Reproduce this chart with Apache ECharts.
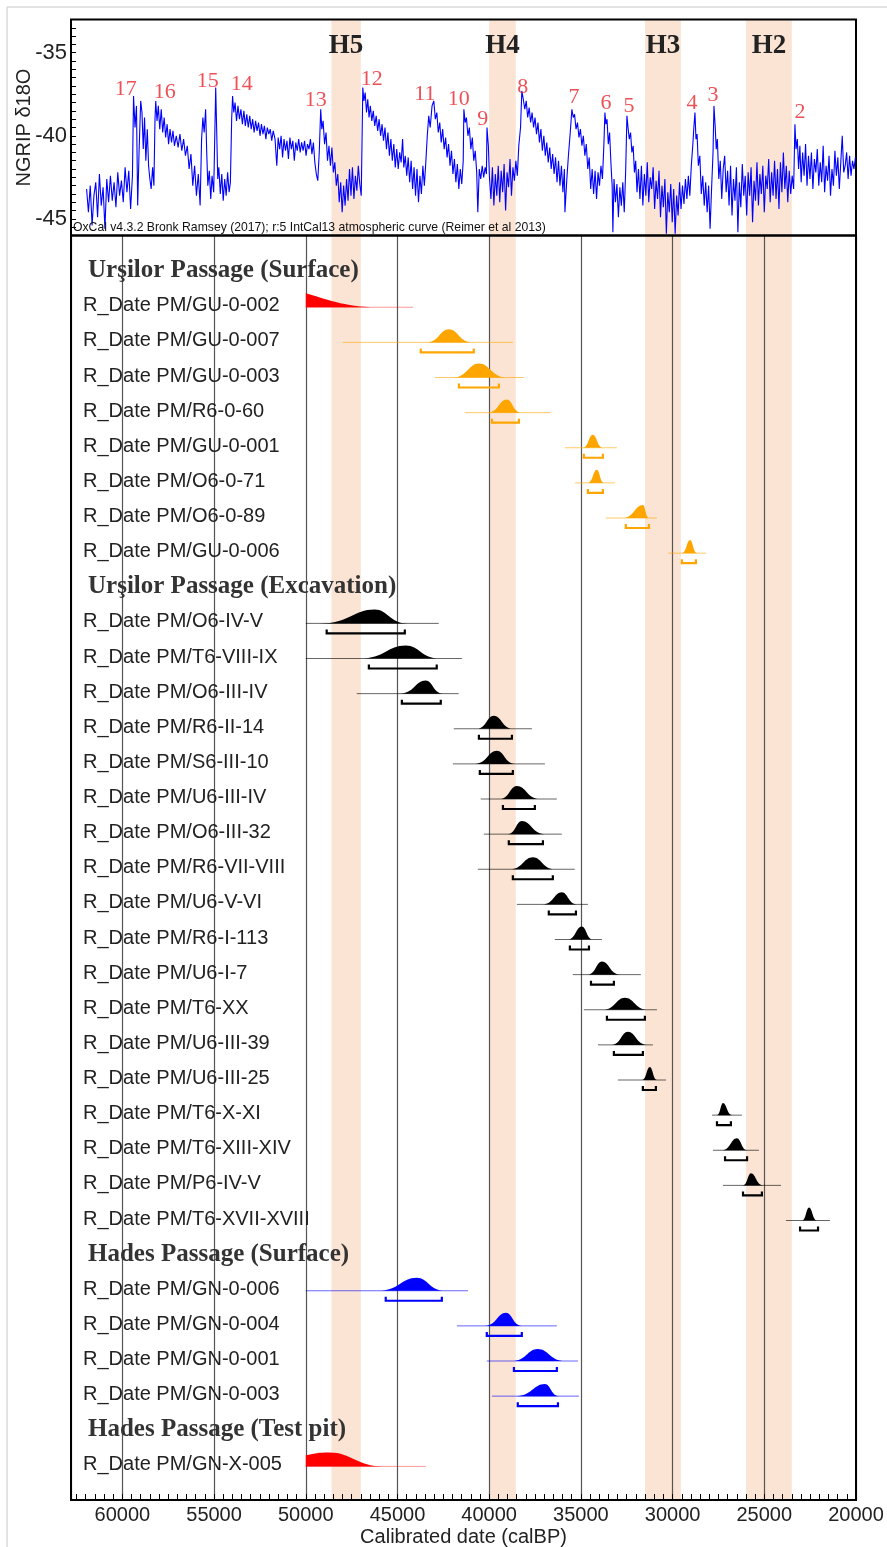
<!DOCTYPE html>
<html>
<head>
<meta charset="utf-8">
<script src="https://cdn.jsdelivr.net/npm/echarts@6/dist/echarts.min.js"></script>
<style>
html,body{margin:0;padding:0;background:#fff;}
#chart{width:887px;height:1547px;}
</style>
</head>
<body>
<div id="chart"></div>
<script>
// NGRIP d18O record: [age calBP, permil]
var ngrip = [
[61950,-43.2],[61850,-44.6],[61750,-43.0],[61650,-45.4],[61550,-43.6],[61450,-42.8],[61350,-44.9],[61250,-42.3],[61150,-44.2],[61050,-43.1],[60950,-45.6],[60850,-42.6],[60750,-44.0],[60650,-42.4],[60550,-43.9],[60450,-42.8],[60350,-44.3],[60250,-42.2],[60150,-43.6],[60050,-42.7],[59950,-44.0],[59850,-41.9],[59750,-43.4],[59650,-42.1],[59550,-44.4],[59450,-42.4],
[59390,-37.6],[59310,-39.5],[59230,-38.2],[59165,-44.2],[59090,-41.0],[59000,-37.9],[58930,-38.6],[58860,-40.8],[58790,-38.9],[58720,-41.5],[58640,-39.6],[58570,-41.8],[58500,-42.6],[58430,-43.2],[58350,-41.9],[58280,-43.0],[58220,-39.0],[58180,-37.9],
[58110,-39.1],[58040,-38.2],[57960,-39.6],[57880,-38.4],[57800,-39.8],[57720,-38.9],[57640,-40.1],[57560,-39.3],[57480,-40.5],[57400,-39.6],[57320,-40.4],[57240,-39.7],[57160,-40.6],[57060,-40.0],[56960,-40.7],[56860,-39.9],[56760,-40.9],[56660,-40.2],[56560,-41.2],[56460,-40.6],[56360,-42.0],[56260,-41.1],[56160,-43.0],[56060,-41.8],[55960,-43.6],[55860,-42.3],[55760,-44.2],
[55680,-40.2],[55610,-38.9],[55540,-39.8],[55460,-38.4],[55400,-41.0],[55340,-43.0],[55260,-42.1],[55180,-43.8],[55110,-42.4],[55020,-43.4],[54910,-37.1],[54860,-39.5],[54800,-42.6],[54740,-41.9],[54660,-43.5],[54580,-42.3],[54500,-43.9],[54420,-42.6],[54340,-43.6],[54260,-42.2],[54180,-43.4],[54110,-42.8],[54040,-39.0],[53990,-37.6],
[53925,-38.6],[53855,-38.0],[53775,-39.1],[53695,-38.2],[53615,-39.0],[53535,-38.4],[53455,-39.3],[53375,-38.5],[53295,-39.4],[53215,-38.7],[53135,-39.5],[53055,-38.8],[52975,-39.6],[52895,-39.0],[52815,-39.8],[52735,-39.1],[52655,-39.7],[52575,-39.2],[52495,-40.0],[52415,-39.3],[52335,-39.9],[52255,-39.4],[52175,-40.2],[52095,-39.5],[52015,-39.9],[51935,-39.6],[51855,-40.3],[51775,-39.7],[51675,-40.2],[51580,-41.8],
[51505,-40.1],[51425,-40.8],[51345,-40.0],[51265,-41.3],[51185,-40.2],[51105,-40.9],[51025,-40.3],[50945,-41.4],[50865,-40.1],[50785,-40.8],[50705,-40.3],[50625,-41.5],[50545,-40.4],[50465,-40.9],[50385,-40.2],[50305,-41.0],[50225,-40.4],[50145,-40.9],[50065,-40.3],[49985,-41.2],[49905,-40.5],[49825,-40.8],[49745,-40.2],[49665,-41.1],[49585,-40.4],[49505,-41.6],[49425,-42.3],[49345,-42.7],[49265,-41.0],[49185,-38.4],
[49125,-39.6],[49055,-39.1],[48975,-40.5],[48895,-39.8],[48815,-41.5],[48735,-40.6],[48655,-41.8],[48575,-40.7],[48495,-42.2],[48415,-41.6],[48335,-43.0],[48255,-42.3],[48175,-44.0],[48095,-42.8],[48015,-44.6],[47935,-43.0],[47855,-44.2],[47775,-42.6],[47695,-43.9],[47615,-42.0],[47535,-43.6],[47455,-41.9],[47375,-43.8],[47295,-42.4],[47215,-43.3],[47135,-41.8],[47055,-42.9],[46975,-43.6],
[46890,-37.1],[46830,-37.9],[46760,-37.4],[46690,-38.6],[46620,-37.8],[46550,-38.9],[46480,-38.2],[46400,-39.1],[46320,-38.5],[46240,-39.4],[46160,-38.8],[46080,-39.7],[46000,-39.0],[45920,-40.0],[45840,-39.3],[45760,-40.3],[45680,-39.5],[45600,-40.8],[45520,-39.8],[45440,-41.2],[45360,-40.2],[45280,-41.5],[45200,-40.5],[45120,-41.9],[45040,-40.8],[44960,-42.0],[44880,-41.0],[44800,-41.6],[44720,-40.2],
[44655,-41.9],[44575,-41.2],[44495,-42.4],[44415,-41.3],[44335,-42.8],[44255,-41.5],[44175,-43.2],[44095,-41.9],[44015,-43.6],[43935,-42.0],[43855,-44.0],[43775,-42.4],[43695,-43.5],[43615,-41.8],[43535,-43.0],[43455,-41.6],[43375,-40.0],[43295,-38.8],[43215,-39.5],[43115,-38.2],[43020,-37.9],[42935,-39.0],[42855,-38.6],[42775,-39.8],[42695,-39.2],[42615,-40.4],[42535,-39.6],[42455,-40.8],[42375,-40.1],[42295,-41.3],[42215,-40.5],[42135,-41.8],[42055,-40.9],[41975,-42.3],[41895,-41.4],[41815,-42.8],[41735,-41.7],[41655,-43.2],[41575,-42.0],[41495,-42.9],[41415,-41.5],
[41380,-38.4],[41310,-39.2],[41240,-38.9],[41160,-40.0],[41080,-39.5],[41000,-40.8],[40920,-40.1],[40840,-41.5],[40760,-40.9],[40680,-42.2],[40620,-44.6],[40540,-42.0],[40460,-42.6],[40380,-41.8],[40300,-42.5],[40220,-41.9],[40150,-42.3],[40120,-39.5],
[40045,-40.6],[39985,-42.5],[39905,-43.8],[39825,-41.9],[39745,-44.2],[39665,-42.3],[39585,-43.6],[39505,-41.8],[39425,-44.0],[39345,-42.1],[39265,-43.4],[39185,-41.7],[39105,-44.5],[39025,-42.2],[38945,-43.1],[38865,-41.4],[38785,-43.6],[38705,-41.9],[38625,-42.7],[38545,-41.5],[38465,-42.4],[38385,-40.6],[38290,-39.5],[38220,-37.3],
[38140,-37.8],[38060,-38.4],[37980,-37.9],[37900,-38.9],[37820,-38.3],[37740,-39.2],[37660,-38.6],[37580,-39.5],[37500,-38.9],[37420,-39.9],[37340,-39.2],[37260,-40.4],[37180,-39.6],[37100,-40.9],[37020,-40.0],[36940,-41.2],[36860,-40.4],[36780,-41.6],[36700,-40.7],[36620,-42.0],[36540,-41.1],[36460,-42.3],[36380,-41.3],[36300,-42.8],[36220,-41.5],[36140,-43.0],[36060,-41.8],[35980,-43.4],[35900,-42.0],[35870,-44.6],[35760,-42.5],[35680,-41.2],[35580,-39.8],[35490,-38.4],
[35415,-38.9],[35345,-38.7],[35265,-39.6],[35185,-39.2],[35105,-40.1],[35025,-39.6],[34945,-40.6],[34865,-40.0],[34785,-41.2],[34705,-40.5],[34625,-42.0],[34545,-41.3],[34465,-43.2],[34385,-42.0],[34305,-43.5],[34225,-42.1],[34145,-43.8],[34065,-42.2],[33985,-43.0],[33905,-41.8],[33825,-42.6],[33745,-40.5],[33690,-38.6],
[33635,-39.3],[33575,-39.0],[33505,-40.5],[33435,-39.8],[33355,-41.8],[33295,-43.0],[33255,-45.8],[33195,-42.6],[33115,-44.0],[33035,-42.9],[32955,-44.9],[32875,-43.1],[32795,-44.2],[32715,-42.8],[32635,-44.6],[32555,-42.0],[32490,-38.8],
[32430,-39.5],[32360,-40.2],[32290,-39.8],[32220,-41.0],[32150,-40.6],[32080,-42.2],[32010,-41.5],[31940,-43.4],[31860,-42.0],[31780,-43.8],[31700,-41.8],[31620,-44.2],[31540,-42.3],[31460,-43.6],[31380,-41.6],[31300,-44.0],[31220,-42.5],[31140,-43.2],[31060,-41.9],[30980,-44.4],[30900,-42.7],[30820,-43.8],[30740,-42.1],[30660,-44.9],[30580,-43.0],[30500,-44.3],[30420,-42.6],[30340,-45.9],[30260,-43.4],[30180,-44.6],[30100,-42.9],[30020,-45.2],[29940,-43.2],[29860,-45.9],[29780,-43.6],[29700,-44.8],[29620,-42.8],[29540,-44.4],[29460,-43.0],[29380,-44.1],[29300,-42.6],[29220,-43.8],[29140,-42.4],[29060,-43.6],[28980,-41.8],[28900,-40.6],[28840,-39.5],[28780,-38.6],
[28725,-40.2],[28665,-39.9],[28595,-41.8],[28515,-41.2],[28435,-43.5],[28355,-42.4],[28275,-44.2],[28195,-42.8],[28115,-44.6],[28035,-43.0],[27955,-45.6],[27875,-43.2],[27795,-41.0],[27745,-38.2],
[27680,-39.4],[27620,-40.8],[27560,-40.2],[27480,-42.6],[27400,-41.5],[27320,-43.8],[27240,-42.0],[27160,-41.2],[27080,-43.4],[27000,-42.1],[26920,-44.2],[26840,-41.8],[26760,-44.8],[26680,-42.6],[26600,-43.9],[26520,-41.9],[26440,-45.8],[26360,-42.8],[26280,-44.3],[26200,-41.7],[26120,-43.6],[26040,-42.4],[25960,-44.8],[25880,-42.2],[25800,-43.6],[25720,-41.9],[25640,-45.2],[25560,-42.7],[25480,-43.9],[25400,-41.6],[25320,-44.2],[25240,-42.3],[25160,-43.5],[25080,-41.8],[25000,-44.6],[24920,-42.4],[24840,-43.2],[24760,-41.4],[24680,-44.0],[24600,-42.2],[24520,-43.6],[24440,-41.5],[24360,-43.8],[24280,-42.0],[24200,-44.4],[24120,-41.6],[24040,-43.4],[23960,-41.0],[23880,-43.2],[23800,-41.8],[23720,-44.0],[23640,-42.1],[23560,-43.5],[23480,-42.4],[23400,-43.2],[23330,-39.3],
[23270,-40.8],[23200,-40.2],[23130,-42.0],[23060,-40.6],[22990,-42.8],[22910,-41.0],[22830,-42.4],[22750,-40.5],[22670,-43.0],[22590,-41.2],[22510,-42.6],[22430,-41.0],[22350,-43.2],[22270,-41.4],[22190,-42.2],[22110,-40.8],[22030,-43.0],[21950,-41.6],[21870,-42.8],[21790,-40.6],[21710,-43.4],[21630,-41.8],[21550,-42.7],[21470,-41.2],[21390,-43.6],[21310,-42.0],[21230,-43.0],[21150,-40.9],[21070,-42.4],[20990,-41.3],[20910,-43.2],[20830,-41.6],[20750,-40.0],[20670,-42.2],[20590,-41.8],[20510,-41.0],[20430,-42.6],[20350,-41.2],[20270,-42.4],[20190,-41.5],[20110,-42.0],[20030,-41.3]
];

// Dansgaard-Oeschger event numbers and where they are written
var doNames = ['17','16','15','14','13','12','11','10','9','8','7','6','5','4','3','2'];
var doAges  = [59820,57690,55350,53490,49455,46400,43510,41655,40346,38164,35382,33636,32381,28945,27799,23053];
var doVals  = [-37.18,-37.36,-36.70,-36.88,-37.85,-36.58,-37.48,-37.78,-38.99,-37.06,-37.66,-38.03,-38.21,-38.03,-37.54,-38.57];

// Heinrich events
var heinNames = ['H5','H4','H3','H2'];
var heinFrom  = [48600,40000,31500,26000];
var heinTo    = [47000,38550,29550,23500];

// dates, grouped by section
var sectionTitles = ['Urşilor Passage (Surface)','Urşilor Passage (Excavation)','Hades Passage (Surface)','Hades Passage (Test pit)'];
var dateNames = [
'R_Date PM/GU-0-002','R_Date PM/GU-0-007','R_Date PM/GU-0-003','R_Date PM/R6-0-60','R_Date PM/GU-0-001','R_Date PM/O6-0-71','R_Date PM/O6-0-89','R_Date PM/GU-0-006',
'R_Date PM/O6-IV-V','R_Date PM/T6-VIII-IX','R_Date PM/O6-III-IV','R_Date PM/R6-II-14','R_Date PM/S6-III-10','R_Date PM/U6-III-IV','R_Date PM/O6-III-32','R_Date PM/R6-VII-VIII','R_Date PM/U6-V-VI','R_Date PM/R6-I-113','R_Date PM/U6-I-7','R_Date PM/T6-XX','R_Date PM/U6-III-39','R_Date PM/U6-III-25','R_Date PM/T6-X-XI','R_Date PM/T6-XIII-XIV','R_Date PM/P6-IV-V','R_Date PM/T6-XVII-XVIII',
'R_Date PM/GN-0-006','R_Date PM/GN-0-004','R_Date PM/GN-0-001','R_Date PM/GN-0-003',
'R_Date PM/GN-X-005'];
var dateSection = [0,0,0,0,0,0,0,0, 1,1,1,1,1,1,1,1,1,1,1,1,1,1,1,1,1,1, 2,2,2,2, 3];
// unmodelled likelihood extent (thin line)
var lineFrom = [50000,47980,42960,41330,35870,35330,33640,30250, 50000,50000,47220,41930,41980,40460,40290,40620,38490,36420,35440,34840,34070,32980,27850,27800,27250,23820, 50000,41760,40130,39850, 50000];
var lineTo   = [44150,38710,38110,36640,33040,33150,30850,28180, 42750,41490,41660,37670,36960,36310,36040,35330,34620,33850,31730,30850,31070,30360,26220,25290,24090,21420, 41160,36310,35160,35110, 43450];
// distribution: start of rise, mode, end of fall, relative height
var shapeFrom = [50000,43400,41980,40070,34890,34620,32710,29490, 49240,47060,44870,40670,40780,39420,38980,38870,37070,35710,34620,33800,33310,31670,27580,27310,26160,22940, 46070,40240,38760,38550, 50000];
var shapePeak = [50000,42200,40560,39040,34350,34130,31620,29050, 46240,44550,43460,39750,39580,38490,38220,37620,36040,34950,33850,32600,32440,31240,27250,26490,25730,22560, 43950,39090,37350,36960, 48690];
var shapeTo   = [46130,40950,39040,38270,33800,33750,31290,28670, 44440,42690,42530,38710,38600,37240,36960,36420,35220,34350,32870,31350,31400,30850,26760,25940,25070,22130, 42420,38220,35870,36200, 45750];
var shapeHeight = [1.0,0.93,1.0,0.93,0.93,0.93,0.93,0.93, 1.0,0.93,0.93,0.93,0.93,0.93,0.93,0.86,0.86,0.93,0.93,0.86,0.93,0.93,0.86,0.86,0.86,0.93, 0.93,0.93,0.86,0.86, 1.0];
// height where the curve is cut at 50000 calBP (limit of IntCal13)
var cutHeight = [1.0,0,0,0,0,0,0,0, 0,0,0,0,0,0,0,0,0,0,0,0,0,0,0,0,0,0, 0,0,0,0, 0.79];
// 95.4% ranges (brackets); null when the date is out of range
var rangeFrom = [null,43730,41650,39850,34840,34620,32550,29490, 48860,46560,44760,40560,40510,39250,38930,38710,36750,35600,34450,33580,33200,31620,27580,27140,26160,23050, 45640,40130,38650,38440, null];
var rangeTo   = [null,40840,39470,38380,33800,33800,31290,28730, 44600,42860,42640,38760,38710,37510,37070,36530,35270,34560,33200,31510,31620,30910,26820,25940,25130,22070, 42580,38220,36310,36250, null];

var sectionColors = ['#ffa500','#000000','#0000ff','#ff0000'];
var outColor = '#ff0000';

// rows of the lower panel: blank, headers + dates, blank
var rows = [''];
var dateRow = [];
for (var s = 0; s < sectionTitles.length; s++) {
	rows.push(sectionTitles[s]);
	for (var i = 0; i < dateNames.length; i++) {
		if (dateSection[i] == s) {
			dateRow[i] = rows.length;
			rows.push(dateNames[i]);
		}
	}
}
rows.push(' ');

var SANS = '"Liberation Sans", Arial, sans-serif';
var SERIF = '"Liberation Serif", "Times New Roman", serif';
var PEAK_PX = 14;

function renderDate(params, api) {
	var i = params.dataIndex;
	var row = dateRow[i];
	var y0 = api.coord([20000, row])[1] + 1.5;
	function px(v) { return api.coord([v, row])[0]; }
	var col = rangeFrom[i] == null ? outColor : sectionColors[dateSection[i]];
	var kids = [];
	kids.push({type: 'line', shape: {x1: px(lineFrom[i]), y1: y0, x2: px(lineTo[i]), y2: y0},
		style: {stroke: col, lineWidth: 1, opacity: rangeFrom[i] == null ? 0.4 : 0.6}});
	var xa = px(shapeFrom[i]), xp = px(shapePeak[i]), xb = px(shapeTo[i]);
	var top = y0 - shapeHeight[i] * PEAK_PX;
	var d;
	if (cutHeight[i] > 0) {
		d = 'M' + xa + ' ' + y0 + ' L' + xa + ' ' + (y0 - cutHeight[i] * PEAK_PX);
		if (xp > xa + 0.5) {
			d += ' C' + (xa + (xp - xa) * 0.5) + ' ' + top + ' ' + (xp - (xp - xa) * 0.3) + ' ' + top + ' ' + xp + ' ' + top;
			d += ' C' + (xp + (xb - xp) * 0.4) + ' ' + top + ' ' + (xb - (xb - xp) * 0.5) + ' ' + y0 + ' ' + xb + ' ' + y0 + ' Z';
		} else {
			d += ' C' + (xp + (xb - xp) * 0.25) + ' ' + (top + shapeHeight[i] * PEAK_PX * 0.35) + ' ' + (xb - (xb - xp) * 0.45) + ' ' + y0 + ' ' + xb + ' ' + y0 + ' Z';
		}
	} else {
		d = 'M' + xa + ' ' + y0 + ' C' + (xa + (xp - xa) * 0.55) + ' ' + y0 + ' ' + (xp - (xp - xa) * 0.4) + ' ' + top + ' ' + xp + ' ' + top;
		d += ' C' + (xp + (xb - xp) * 0.4) + ' ' + top + ' ' + (xb - (xb - xp) * 0.55) + ' ' + y0 + ' ' + xb + ' ' + y0 + ' Z';
	}
	kids.push({type: 'path', shape: {pathData: d}, style: {fill: col}});
	if (rangeFrom[i] != null) {
		var yb = y0 + 10, r0 = px(rangeFrom[i]), r1 = px(rangeTo[i]);
		kids.push({type: 'polyline', shape: {points: [[r0, yb - 4], [r0, yb], [r1, yb], [r1, yb - 4]]},
			style: {stroke: col, lineWidth: 2.2, fill: null}});
	}
	return {type: 'group', children: kids};
}

var doData = [];
for (var k = 0; k < doNames.length; k++) doData.push([doAges[k], doVals[k], doNames[k]]);
var dateData = [];
for (var j = 0; j < dateNames.length; j++) dateData.push([lineFrom[j], lineTo[j], dateRow[j]]);
var bandsTop = [], bandsLow = [];
for (var h = 0; h < heinNames.length; h++) {
	bandsTop.push([{name: heinNames[h], xAxis: heinFrom[h]}, {xAxis: heinTo[h]}]);
	bandsLow.push([{xAxis: heinFrom[h]}, {xAxis: heinTo[h]}]);
}

var chart = echarts.init(document.getElementById('chart'), null, {renderer: 'canvas'});
chart.setOption({
	animation: false,
	backgroundColor: '#fff',
	grid: [
		{left: 71, right: 31, top: 19.5, height: 216, show: true, z: 8, borderColor: '#000', borderWidth: 2, backgroundColor: 'transparent', outerBoundsMode: 'none', containLabel: false},
		{left: 71, right: 31, top: 235.5, bottom: 47, show: true, z: 8, borderColor: '#000', borderWidth: 2, backgroundColor: 'transparent', outerBoundsMode: 'none', containLabel: false}
	],
	xAxis: [
		{gridIndex: 0, type: 'value', min: 20000, max: 62800, inverse: true, show: false},
		{gridIndex: 1, type: 'value', min: 20000, max: 62800, inverse: true, interval: 500, z: 8,
			axisLine: {show: true, onZero: false, lineStyle: {color: '#000', width: 2}},
			axisTick: {show: true, inside: true, length: 6, lineStyle: {color: '#000', width: 1}},
			axisLabel: {margin: 5, fontSize: 20, fontFamily: SANS, color: '#222',
				formatter: function (v) { return v % 5000 == 0 ? String(v) : ''; }},
			splitLine: {show: false},
			name: 'Calibrated date (calBP)', nameLocation: 'middle', nameGap: 27, nameMoveOverlap: false,
			nameTextStyle: {fontSize: 20, fontFamily: SANS, color: '#222'}},
		{gridIndex: 1, type: 'value', min: 20000, max: 62800, inverse: true, interval: 5000, position: 'bottom', z: 5,
			axisLine: {show: false}, axisTick: {show: false}, axisLabel: {show: false},
			splitLine: {show: true, lineStyle: {color: '#555', width: 1.2}}}
	],
	yAxis: [
		{gridIndex: 0, type: 'value', min: -46, max: -33, interval: 0.5, z: 8,
			axisLine: {show: false},
			axisTick: {show: true, inside: true, length: 5, lineStyle: {color: '#000'}},
			axisLabel: {margin: 4, fontSize: 22, fontFamily: SANS, color: '#222',
				formatter: function (v) { return Math.abs(v % 5) < 1e-6 ? String(v) : ''; }},
			splitLine: {show: false},
			name: 'NGRIP δ18O', nameLocation: 'middle', nameGap: 37, nameMoveOverlap: false,
			nameTextStyle: {fontSize: 20, fontFamily: SANS, color: '#222'}},
		{gridIndex: 1, type: 'category', data: rows, inverse: true, boundaryGap: false, z: 6,
			axisLine: {show: false}, axisTick: {show: false}, splitLine: {show: false},
			axisLabel: {inside: true, interval: 0, margin: 12, hideOverlap: false,
				formatter: function (v) {
					if (sectionTitles.indexOf(v) >= 0) return '{h|' + v + '}';
					return '{r|' + v + '}';
				},
				rich: {
					h: {fontFamily: SERIF, fontWeight: 'bold', fontSize: 25, color: '#333', padding: [0, 0, 0, 5]},
					r: {fontFamily: SANS, fontSize: 20, color: '#222'}
				}}}
	],
	graphic: [
		{type: 'line', shape: {x1: 7, y1: 7, x2: 887, y2: 7}, style: {stroke: '#c8c8c8', lineWidth: 1}, silent: true},
		{type: 'line', shape: {x1: 7, y1: 7, x2: 7, y2: 1547}, style: {stroke: '#c8c8c8', lineWidth: 1}, silent: true},
		{type: 'text', left: 73, top: 222, silent: true, z: 20,
			style: {text: 'OxCal v4.3.2 Bronk Ramsey (2017); r:5 IntCal13 atmospheric curve (Reimer et al 2013)',
				fontSize: 12.2, fontFamily: SANS, fill: '#111'}}
	],
	series: [
		{name: 'bandsTop', type: 'line', xAxisIndex: 0, yAxisIndex: 0, z: 1, silent: true,
			data: [[20000, -50]], showSymbol: false, lineStyle: {opacity: 0},
			markArea: {silent: true, itemStyle: {color: '#fbe4d3'},
				label: {show: true, position: 'insideTop', distance: 13, fontSize: 27, fontWeight: 'bold',
					fontFamily: SERIF, color: '#222'},
				data: bandsTop}},
		{name: 'bandsLow', type: 'line', xAxisIndex: 1, yAxisIndex: 1, z: 1, silent: true,
			data: [[20000, 0]], showSymbol: false, lineStyle: {opacity: 0},
			markArea: {silent: true, itemStyle: {color: '#fbe4d3'}, label: {show: false}, data: bandsLow}},
		{name: 'NGRIP', type: 'line', xAxisIndex: 0, yAxisIndex: 0, data: ngrip, showSymbol: false,
			clip: true, lineStyle: {color: '#0000ff', width: 1.1}, z: 10},
		{name: 'DO', type: 'scatter', xAxisIndex: 0, yAxisIndex: 0, data: doData, symbolSize: 0, z: 11,
			label: {show: true, position: 'inside', formatter: function (p) { return p.value[2]; },
				fontSize: 22, fontFamily: SERIF, color: '#e8262d'}},
		{name: 'dates', type: 'custom', xAxisIndex: 1, yAxisIndex: 1, clip: false, z: 10,
			encode: {x: [0, 1], y: 2}, data: dateData, renderItem: renderDate}
	]
});
</script>
</body>
</html>
